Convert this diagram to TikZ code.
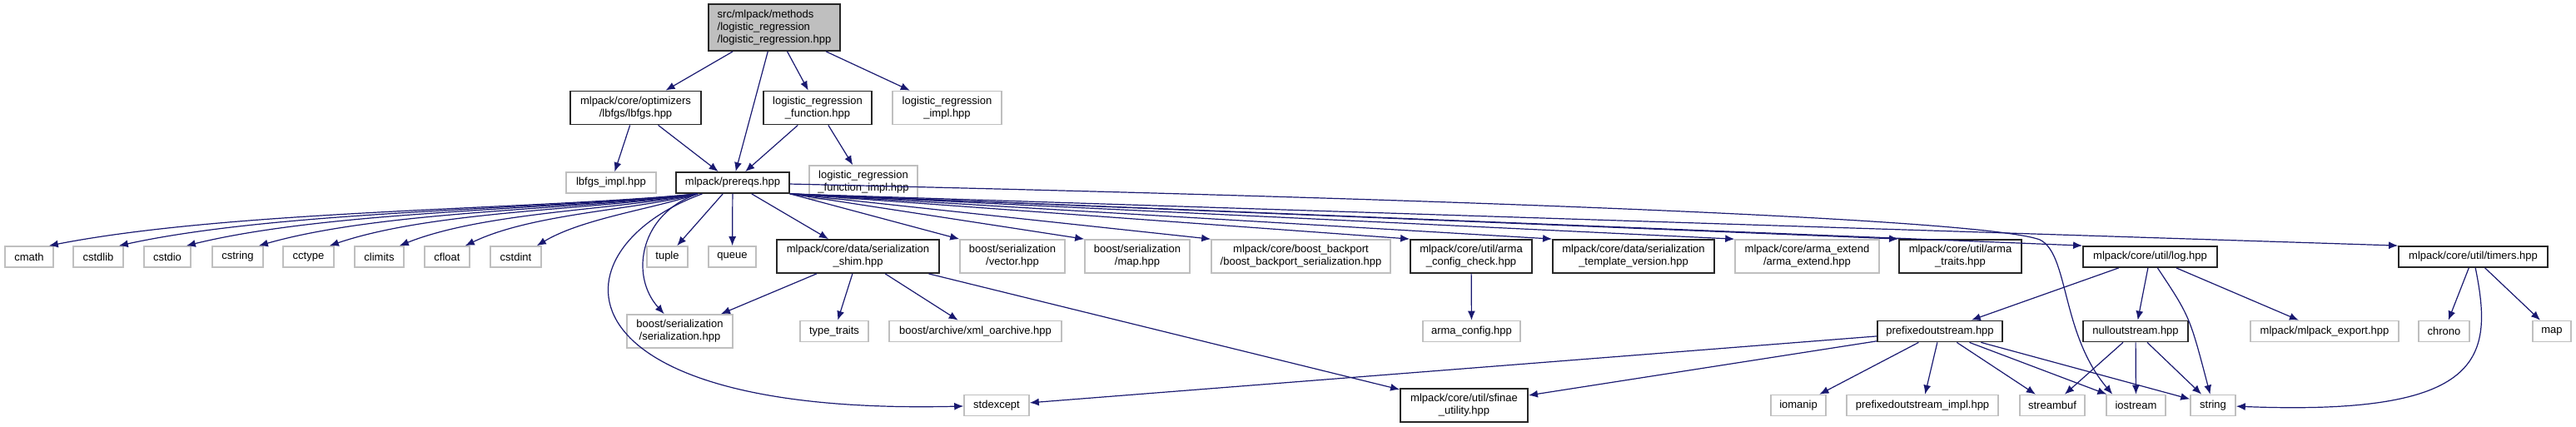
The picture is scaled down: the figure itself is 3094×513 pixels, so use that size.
\documentclass[tikz,border=0pt]{standalone}
\usepackage{fontspec}
\setmainfont{Liberation Sans}
\usepackage{tikz}
\usetikzlibrary{arrows.meta}
\definecolor{incl_color}{RGB}{25, 25, 112}
\definecolor{ext_gray}{RGB}{191, 191, 191}
\definecolor{root_fill}{RGB}{191, 191, 191}

\begin{document}
\begin{tikzpicture}[
    x=0.5pt, y=-0.5pt,
    docfile/.style={draw=black!85, line width=0.9pt, fill=white, inner sep=0pt,
                    align=center, font=\fontsize{6.5}{7.5}\selectfont},
    extfile/.style={docfile, draw=ext_gray, line width=0.8pt},
    oneline/.style={minimum height=12.5pt},
    twoline/.style={minimum height=20pt},
    incl/.style={->, draw=incl_color, line width=0.6pt},
    >={Latex[length=5.5pt, width=4.5pt]}]
  \useasboundingbox (0,0) rectangle (3094,513);

  % the file itself and what it includes
  \node[docfile, fill=root_fill, align=left, minimum width=79pt, minimum height=28pt]
    (root) at (930,33) {src/mlpack/methods\\/logistic\_regression\\/logistic\_regression.hpp};
  \node[docfile, twoline, minimum width=78.5pt] (lbfgs) at (763.5,129.5)
    {mlpack/core/optimizers\\/lbfgs/lbfgs.hpp};
  \node[docfile, twoline, minimum width=65pt] (lrf) at (982,129.5)
    {logistic\_regression\\\_function.hpp};
  \node[extfile, twoline, minimum width=65.5pt] (lri) at (1137.5,129.5)
    {logistic\_regression\\\_impl.hpp};
  \node[extfile, oneline, minimum width=54pt] (lbfgsimpl) at (734,219.5) {lbfgs\_impl.hpp};
  \node[docfile, oneline, minimum width=68pt] (prereqs) at (880,219.5) {mlpack/prereqs.hpp};
  \node[extfile, twoline, minimum width=65pt] (lrfi) at (1037,219)
    {logistic\_regression\\\_function\_impl.hpp};

  % headers pulled in by prereqs.hpp
  \node[extfile, oneline, minimum width=29pt] (cmath) at (35,308.5) {cmath};
  \node[extfile, oneline, minimum width=30pt] (cstdlib) at (118,308.5) {cstdlib};
  \node[extfile, oneline, minimum width=28pt] (cstdio) at (201,308.5) {cstdio};
  \node[extfile, oneline, minimum width=30.5pt] (cstring) at (285.5,308.5) {cstring};
  \node[extfile, oneline, minimum width=30.5pt] (cctype) at (370.5,308.5) {cctype};
  \node[extfile, oneline, minimum width=29.5pt] (climits) at (455.5,308.5) {climits};
  \node[extfile, oneline, minimum width=27pt] (cfloat) at (537,308.5) {cfloat};
  \node[extfile, oneline, minimum width=30.5pt] (cstdint) at (619.5,308.5) {cstdint};
  \node[extfile, oneline, minimum width=24.5pt] (tuple) at (801.5,308.5) {tuple};
  \node[extfile, oneline, minimum width=28.5pt] (queue) at (879.5,308.5) {queue};
  \node[docfile, twoline, minimum width=97.5pt] (shim) at (1030.5,308)
    {mlpack/core/data/serialization\\\_shim.hpp};
  \node[extfile, twoline, minimum width=63pt] (bsv) at (1216,308)
    {boost/serialization\\/vector.hpp};
  \node[extfile, twoline, minimum width=63pt] (bsm) at (1366,308)
    {boost/serialization\\/map.hpp};
  \node[extfile, twoline, minimum width=107.5pt] (bbs) at (1562.5,308)
    {mlpack/core/boost\_backport\\/boost\_backport\_serialization.hpp};
  \node[docfile, twoline, minimum width=73pt] (acc) at (1767,308)
    {mlpack/core/util/arma\\\_config\_check.hpp};
  \node[docfile, twoline, minimum width=97pt] (stv) at (1962,308)
    {mlpack/core/data/serialization\\\_template\_version.hpp};
  \node[extfile, twoline, minimum width=86.5pt] (armaext) at (2170.5,308)
    {mlpack/core/arma\_extend\\/arma\_extend.hpp};
  \node[docfile, twoline, minimum width=73.5pt] (armatraits) at (2354.5,308)
    {mlpack/core/util/arma\\\_traits.hpp};
  \node[docfile, oneline, minimum width=80.5pt] (log) at (2582.5,308.5) {mlpack/core/util/log.hpp};
  \node[docfile, oneline, minimum width=89.5pt] (timers) at (2970.5,308.5) {mlpack/core/util/timers.hpp};

  % next level down
  \node[extfile, twoline, minimum width=63.5pt] (bser) at (816.5,398)
    {boost/serialization\\/serialization.hpp};
  \node[extfile, oneline, minimum width=41pt] (typetraits) at (1002,398) {type\_traits};
  \node[extfile, oneline, minimum width=103.5pt] (xml) at (1171.5,398) {boost/archive/xml\_oarchive.hpp};
  \node[extfile, oneline, minimum width=58.5pt] (armaconfig) at (1767.5,398) {arma\_config.hpp};
  \node[docfile, oneline, minimum width=75pt] (pos) at (2330,398) {prefixedoutstream.hpp};
  \node[docfile, oneline, minimum width=63pt] (nos) at (2565,398) {nulloutstream.hpp};
  \node[extfile, oneline, minimum width=89pt] (export) at (2792,398) {mlpack/mlpack\_export.hpp};
  \node[extfile, oneline, minimum width=30.5pt] (chrono) at (2935.5,398) {chrono};
  \node[extfile, oneline, minimum width=23pt] (map) at (3065,398) {map};

  % bottom row
  \node[extfile, oneline, minimum width=39pt] (stdexcept) at (1197,487) {stdexcept};
  \node[docfile, twoline, minimum width=76.5pt] (sfinae) at (1758.5,487)
    {mlpack/core/util/sfinae\\\_utility.hpp};
  \node[extfile, oneline, minimum width=33pt] (iomanip) at (2160,487) {iomanip};
  \node[extfile, oneline, minimum width=91pt] (posi) at (2309,487) {prefixedoutstream\_impl.hpp};
  \node[extfile, oneline, minimum width=39pt] (streambuf) at (2465,487) {streambuf};
  \node[extfile, oneline, minimum width=35.5pt] (iostream) at (2565.5,487) {iostream};
  \node[extfile, oneline, minimum width=27pt] (string) at (2658,487) {string};

  % include edges
  \draw[incl] (root) -- (lbfgs);
  \draw[incl] (root) -- (prereqs);
  \draw[incl] (root) -- (lrf);
  \draw[incl] (root) -- (lri);
  \draw[incl] (lbfgs) -- (lbfgsimpl);
  \draw[incl] (lbfgs) -- (prereqs);
  \draw[incl] (lrf) -- (prereqs);
  \draw[incl] (lrf) -- (lrfi);

  % prereqs.hpp fans out to the C headers
  \draw[incl] ([xshift=13pt]prereqs.south west) .. controls (643,252) and (280,252) .. ([xshift=-3pt]cmath.north east);
  \draw[incl] ([xshift=13pt]prereqs.south west) .. controls (664,252) and (340,252) .. ([xshift=-3pt]cstdlib.north east);
  \draw[incl] ([xshift=13pt]prereqs.south west) .. controls (684,252) and (400,252) .. ([xshift=-3pt]cstdio.north east);
  \draw[incl] ([xshift=13pt]prereqs.south west) .. controls (706,252) and (462,252) .. ([xshift=-3pt]cstring.north east);
  \draw[incl] ([xshift=13pt]prereqs.south west) .. controls (727,252) and (523,252) .. ([xshift=-3pt]cctype.north east);
  \draw[incl] ([xshift=13pt]prereqs.south west) .. controls (748,252) and (583,254) .. ([xshift=-3pt]climits.north east);
  \draw[incl] ([xshift=13pt]prereqs.south west) .. controls (768,252) and (640,256) .. ([xshift=-3pt]cfloat.north east);
  \draw[incl] ([xshift=13pt]prereqs.south west) .. controls (790,250) and (700,262) .. ([xshift=-3pt]cstdint.north east);
  \draw[incl] (prereqs) .. controls (770,255) and (755,330) .. (bser);
  \draw[incl] (prereqs) .. controls (660,300) and (660,500) .. (stdexcept);
  \draw[incl] (prereqs) -- (tuple);
  \draw[incl] (prereqs) -- (queue);
  \draw[incl] (prereqs) -- (shim);
  \draw[incl] (prereqs.south east) -- (bsv.north west);
  \draw[incl] (prereqs.south east) -- (bsm.north west);
  \draw[incl] (prereqs.south east) -- (bbs.north west);
  \draw[incl] (prereqs.south east) -- (acc.north west);
  \draw[incl] (prereqs.south east) -- (stv.north west);
  \draw[incl] (prereqs.south east) -- (armaext.north west);
  \draw[incl] (prereqs.south east) -- (armatraits.north west);
  \draw[incl] (prereqs.south east) -- (log.north west);
  \draw[incl] (prereqs.south east) -- (timers.north west);
  \draw[incl] (prereqs) .. controls (1700,238) and (2380,262) .. (2450,288)
    .. controls (2485,305) and (2475,400) .. ([xshift=4pt]iostream.north west);

  \draw[incl] (shim) -- (bser);
  \draw[incl] (shim) -- (typetraits);
  \draw[incl] (shim) -- (xml);
  \draw[incl] (shim) -- (sfinae);
  \draw[incl] (acc) -- (armaconfig);

  \draw[incl] (log) -- (pos);
  \draw[incl] (log) -- (nos);
  \draw[incl] (log) .. controls (2630,380) .. (string);
  \draw[incl] (log) -- (export);
  \draw[incl] (timers) -- (chrono);
  \draw[incl] (timers) .. controls (2995,430) and (2985,500) .. (string);
  \draw[incl] (timers) -- (map);

  \draw[incl] (pos) -- (stdexcept);
  \draw[incl] (pos) -- (sfinae);
  \draw[incl] (pos) -- (iomanip);
  \draw[incl] (pos) -- (posi);
  \draw[incl] (pos) -- (streambuf);
  \draw[incl] (pos) -- (iostream);
  \draw[incl] (pos) -- (string);
  \draw[incl] (nos) -- (streambuf);
  \draw[incl] (nos) -- (iostream);
  \draw[incl] (nos) -- (string);
\end{tikzpicture}
\end{document}
